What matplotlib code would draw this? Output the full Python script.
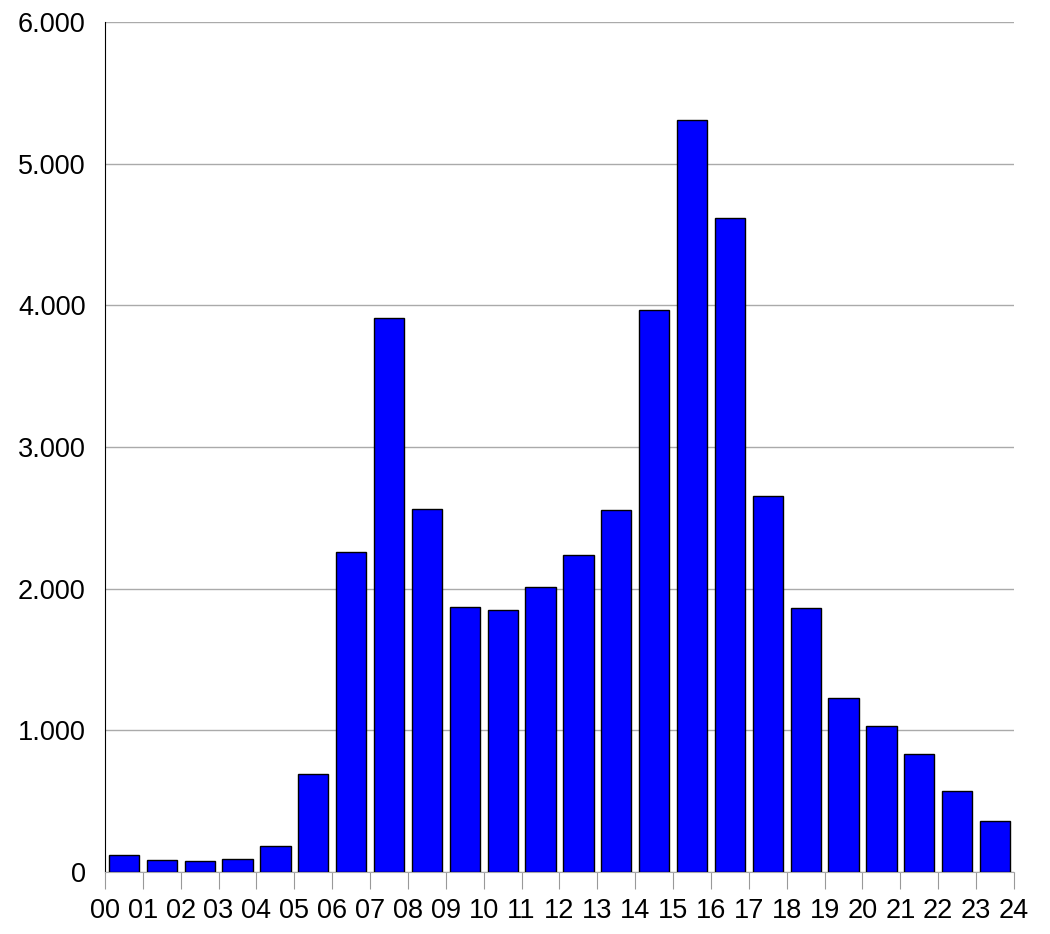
import matplotlib.pyplot as plt
from matplotlib.ticker import FuncFormatter

# valores por hora
horas = list(range(24))
valores = [120, 85, 80, 95, 180, 690, 2260, 3910, 2560, 1870, 1850, 2010,
           2240, 2555, 3965, 5307, 4615, 2655, 1863, 1228, 1030, 833, 572, 360]
etiquetas = ['%02d' % h for h in range(25)]

plt.rcParams['font.family'] = ['Liberation Sans', 'DejaVu Sans']

fig = plt.figure(figsize=(10.5, 9.34), dpi=100)
ax = fig.add_axes([0.1, 0.0664, 0.8657, 0.91])

ax.bar([h + 0.5 for h in horas], valores, width=0.8, color='#0000ff',
       edgecolor='black', linewidth=1, zorder=3)

ax.set_xlim(0, 24)
ax.set_ylim(0, 6000)
ax.set_xticks(range(25))
ax.set_xticklabels(etiquetas, fontsize=19.5)
ax.set_yticks(range(0, 6001, 1000))
ax.yaxis.set_major_formatter(FuncFormatter(lambda v, p: '{:,.0f}'.format(v).replace(',', '.')))
ax.tick_params(axis='y', length=0, pad=14, labelsize=19.5)
ax.tick_params(axis='x', length=12, color='#999999', pad=7)
ax.grid(axis='y', color='#aaaaaa', linewidth=1, zorder=0)

for s in ['top', 'right']:
    ax.spines[s].set_visible(False)
ax.spines['bottom'].set_color('#aaaaaa')
ax.spines['left'].set_color('black')

fig.savefig('out.png')
